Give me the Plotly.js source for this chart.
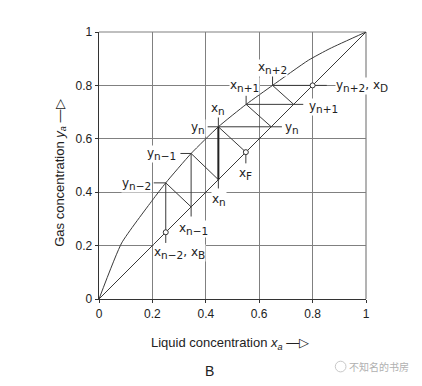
<!DOCTYPE html>
<html>
<head>
<meta charset="utf-8">
<script src="https://cdn.plot.ly/plotly-3.0.1.min.js"></script>
<style>
  html, body { margin: 0; padding: 0; background: #fff; }
  #chart { width: 422px; height: 386px; }
</style>
</head>
<body>
<div id="chart"></div>
<script>
// ---- data ----
const eqX = [0, 0.085, 0.2, 0.25, 0.345, 0.447, 0.551, 0.65, 0.784, 0.865, 1];
const eqY = [0, 0.21, 0.37, 0.435, 0.545, 0.645, 0.729, 0.80, 0.894, 0.938, 1];
const diagX = [0, 1];
const diagY = [0, 1];
const stageX = [0.25, 0.345, 0.447, 0.551, 0.65];
const stageY = [0.435, 0.545, 0.645, 0.729, 0.80];
const xB = 0.25;
const xF = 0.55;
const xD = 0.80;
const tickVals = [0, 0.2, 0.4, 0.6, 0.8, 1];
const tickText = ['0', '0.2', '0.4', '0.6', '0.8', '1'];

function sb(t) { return '<sub><span style="font-size:10.5px">' + t + '</span></sub>'; }
const lab = {
  yn2: 'y' + sb('n\u22122'),
  yn1: 'y' + sb('n\u22121'),
  yn: 'y' + sb('n'),
  xn: 'x' + sb('n'),
  xF: 'x' + sb('F'),
  xn1m: 'x' + sb('n\u22121'),
  xB: 'x' + sb('n\u22122') + ', x' + sb('B'),
  xnp1: 'x' + sb('n+1'),
  xnp2: 'x' + sb('n+2'),
  ynp1: 'y' + sb('n+1'),
  ynp2: 'y' + sb('n+2') + ', x' + sb('D')
};

// ---- build staircase from stage values ----
const sx = [], sy = [];
function seg(ax, ay, bx, by, X, Y) { X.push(ax, bx, null); Y.push(ay, by, null); }
for (let i = 0; i < 3; i++) {
  if (i < 2) seg(stageX[i], stageX[i], stageX[i], stageY[i], sx, sy);
  const nx = i < 2 ? stageX[i + 1] : xF;
  seg(stageX[i], stageY[i], nx, nx, sx, sy);
}
for (let i = 2; i < 5; i++) {
  const ex = i < 4 ? stageY[i] : xD;
  seg(stageX[i], stageY[i], ex, stageY[i], sx, sy);
  if (i < 4) seg(stageY[i], stageY[i], stageX[i + 1], stageY[i + 1], sx, sy);
}
// leader ticks for labels
const lx = [], ly = [];
seg(stageX[0] - 0.045, stageY[0], stageX[0], stageY[0], lx, ly);
seg(stageX[1] - 0.04, stageY[1], stageX[1], stageY[1], lx, ly);
seg(stageX[2] - 0.04, stageY[2], stageX[2], stageY[2], lx, ly);
seg(stageX[2], stageY[2], stageX[2], stageY[2] + 0.037, lx, ly);
seg(stageY[2], stageY[2], stageY[2] + 0.04, stageY[2], lx, ly);
seg(xF, xF, xF, xF - 0.042, lx, ly);
seg(stageX[2], stageX[2], stageX[2], stageX[2] - 0.033, lx, ly);
seg(stageX[1], stageX[1], stageX[1], stageX[1] - 0.036, lx, ly);
seg(xB, xB, xB, xB - 0.04, lx, ly);
seg(stageX[3], stageY[3], stageX[3], stageY[3] + 0.032, lx, ly);
seg(stageX[4], stageY[4], stageX[4], stageY[4] + 0.04, lx, ly);
seg(stageY[3], stageY[3], stageY[3] + 0.036, stageY[3], lx, ly);
seg(xD, xD, xD + 0.053, xD, lx, ly);

const LC = '#3a3a3a';
const traces = [
  {x: eqX, y: eqY, mode: 'lines', line: {color: LC, width: 1, shape: 'spline', smoothing: 0.5}, hoverinfo: 'skip'},
  {x: diagX, y: diagY, mode: 'lines', line: {color: LC, width: 1}, hoverinfo: 'skip'},
  {x: sx, y: sy, mode: 'lines', line: {color: LC, width: 1}, connectgaps: false, hoverinfo: 'skip'},
  {x: [stageX[2], stageX[2]], y: [stageX[2], stageY[2]], mode: 'lines', line: {color: '#222', width: 2}, hoverinfo: 'skip'},
  {x: lx, y: ly, mode: 'lines', line: {color: LC, width: 1}, connectgaps: false, hoverinfo: 'skip'},
  {x: [xB, xF, xD], y: [xB, xF, xD], mode: 'markers',
   marker: {symbol: 'circle', size: 5, color: '#fff', line: {color: '#333', width: 1}}, hoverinfo: 'skip'}
];

const LF = {family: 'DejaVu Sans', size: 12, color: '#222'};
function A(text, x, y, xs, ys, xa) {
  return {text: text, x: x, y: y, xref: 'x', yref: 'y', showarrow: false,
          xshift: xs, yshift: ys, xanchor: xa || 'center', yanchor: 'middle',
          font: LF, bgcolor: '#fff', borderpad: 0};
}
const annotations = [
  A(lab.yn2, stageX[0], stageY[0], -14, -1, 'right'),
  A(lab.yn1, stageX[1], stageY[1], -14, -1, 'right'),
  A(lab.yn, stageX[2], stageY[2], -12, -1, 'right'),
  A(lab.xn, stageX[2], stageY[2], 0, 18, 'center'),
  A(lab.yn, stageY[2], stageY[2], 13, -1, 'left'),
  A(lab.xF, xF, xF, 0, -22, 'center'),
  A(lab.xn, stageX[2], stageX[2], 1, -20, 'center'),
  A(lab.xn1m, stageX[1], stageX[1], 2, -22, 'center'),
  A(lab.xB, xB, xB, -13, -21, 'left'),
  A(lab.xnp1, stageX[3], stageY[3], -2, 18, 'center'),
  A(lab.xnp2, stageX[4], stageY[4], 0, 17, 'center'),
  A(lab.ynp1, stageY[3], stageY[3], 14, -3, 'left'),
  A(lab.ynp2, xD, xD, 22, -1, 'left'),
  {text: 'Liquid concentration <i>x<sub>a</sub></i> \u2014\u25B7', xref: 'paper', yref: 'paper',
   x: 0.49, y: -0.165, showarrow: false, xanchor: 'center', yanchor: 'middle',
   font: {family: 'Liberation Sans', size: 13, color: '#222'}},
  {text: 'Gas concentration <i>y<sub>a</sub></i> \u2014\u25B7', xref: 'paper', yref: 'paper',
   x: -0.145, y: 0.47, showarrow: false, textangle: -90, xanchor: 'center', yanchor: 'middle',
   font: {family: 'Liberation Sans', size: 13, color: '#222'}},
  {text: 'B', xref: 'paper', yref: 'paper', x: 0.415, y: -0.27, showarrow: false,
   xanchor: 'center', yanchor: 'middle', font: {family: 'Liberation Sans', size: 14, color: '#222'}},
  {text: '不知名的书房', xref: 'paper', yref: 'paper', x: 1.05, y: -0.253, showarrow: false,
   xanchor: 'center', yanchor: 'middle', font: {family: 'Noto Sans CJK SC', size: 10, color: '#b0b0b0'}}
];

const axisBase = {
  range: [0, 1], tickmode: 'array', tickvals: tickVals, ticktext: tickText,
  showgrid: true, gridcolor: '#808080', gridwidth: 1.2, zeroline: false,
  showline: true, linecolor: '#333', linewidth: 1.3,
  ticks: 'outside', ticklen: 3, tickcolor: '#333', tickwidth: 1,
  tickfont: {family: 'Liberation Sans', size: 12, color: '#222'}, fixedrange: true
};

const layout = {
  width: 422, height: 386,
  margin: {l: 99, r: 56, t: 32, b: 87},
  paper_bgcolor: '#fff', plot_bgcolor: '#fff',
  showlegend: false,
  xaxis: Object.assign({}, axisBase),
  yaxis: Object.assign({}, axisBase),
  annotations: annotations,
  shapes: [
    {type: 'line', xref: 'paper', yref: 'paper', x0: 0, x1: 1, y0: 1, y1: 1, line: {color: '#808080', width: 1.2}, layer: 'below'},
    {type: 'line', xref: 'paper', yref: 'paper', x0: 1, x1: 1, y0: 0, y1: 1, line: {color: '#808080', width: 1.2}, layer: 'below'},
    {type: 'circle', xref: 'paper', yref: 'paper', x0: 0.885, x1: 0.925, y0: -0.273, y1: -0.233, line: {color: '#c8c8c8', width: 1}}
  ]
};

Plotly.newPlot('chart', traces, layout, {displayModeBar: false, staticPlot: true});
</script>
</body>
</html>
